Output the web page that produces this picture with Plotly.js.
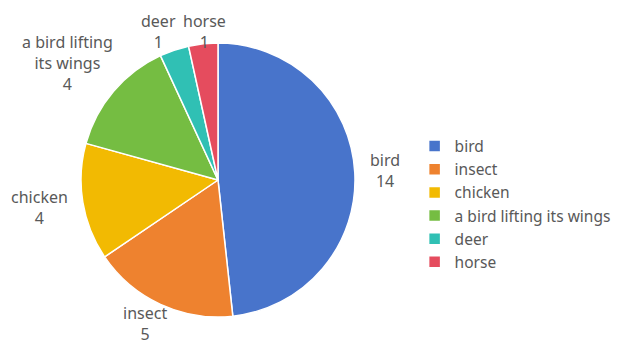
<!DOCTYPE html>
<html>
<head>
<meta charset="utf-8">
<script src="https://cdn.plot.ly/plotly-3.0.1.min.js"></script>
<style>html,body{margin:0;padding:0;background:#fff;}#chart{width:617px;height:344px;}</style>
</head>
<body>
<div id="chart"></div>
<script>
const categories = ["bird", "insect", "chicken", "a bird lifting its wings", "deer", "horse"];
const pieLabels = ["bird", "insect", "chicken", "a bird lifting<br>its wings", "deer", "horse"];
const values = [14, 5, 4, 4, 1, 1];
const colors = ["#4874CB", "#EE822F", "#F2BA02", "#75BD42", "#30C0B4", "#E54C5E"];

const W = 617, H = 344;
const cx = 218, cy = 180, r = 137;
const FONT = "Noto Sans, sans-serif";
const FS = 16;
const textColor = "#595959";

// Label placement: outside the pie, computed from slice mid-angles (clockwise from 12 o'clock)
const ctx = document.createElement("canvas").getContext("2d");
ctx.font = FS + "px 'Noto Sans'";
const total = values.reduce((a, b) => a + b, 0);
let cum = 0;
const boxes = values.map((v, i) => {
  const mid = (cum + v / 2) / total * 2 * Math.PI;
  cum += v;
  const lines = (pieLabels[i] + "<br>" + v).split("<br>");
  const hw = Math.max(...lines.map(l => ctx.measureText(l).width)) / 2 + 2;
  const hh = lines.length * FS * 1.3 / 2;
  const dx = Math.sin(mid), dy = -Math.cos(mid);
  const R = r * 1.095;
  let x = cx + R * dx + dx * hw;
  let y = cy + R * dy + dy * hh;
  // keep inside chart area
  const minTop = 11, maxBottom = H;
  if (y - hh < minTop) y = minTop + hh;
  if (y + hh > maxBottom) y = maxBottom - hh;
  return { x, y, hw, hh, text: lines.join("<br>") };
});
// resolve horizontal overlaps between neighbouring labels on the same row
for (let i = 0; i < boxes.length; i++) {
  for (let j = i + 1; j < boxes.length; j++) {
    const a = boxes[i], b = boxes[j];
    if (Math.abs(a.y - b.y) < a.hh + b.hh) {
      const need = a.hw + b.hw + 4;
      const d = Math.abs(a.x - b.x);
      if (d < need) {
        const m = (a.x + b.x) / 2, s = a.x < b.x ? -1 : 1;
        a.x = m + s * need / 2; b.x = m - s * need / 2;
      }
    }
  }
}
const annotations = boxes.map(b => ({
  xref: "paper", yref: "paper",
  x: b.x / W, y: 1 - b.y / H,
  xanchor: "center", yanchor: "middle",
  text: b.text, showarrow: false, align: "center",
  font: { family: FONT, size: FS, color: textColor }
}));

const trace = {
  type: "pie",
  labels: categories,
  values: values,
  sort: false,
  direction: "clockwise",
  rotation: 0,
  marker: { colors: colors, line: { color: "#ffffff", width: 1.5 } },
  textinfo: "none",
  hoverinfo: "label+value",
  domain: { x: [(cx - r) / W, (cx + r) / W], y: [(H - cy - r) / H, (H - cy + r) / H] }
};

const layout = {
  width: W, height: H,
  margin: { l: 0, r: 0, t: 0, b: 0, autoexpand: false },
  paper_bgcolor: "#ffffff",
  showlegend: true,
  annotations: annotations,
  legend: {
    x: 0.672, y: 1 - 204 / H, xanchor: "left", yanchor: "middle",
    font: { family: FONT, size: 15.5, color: textColor },
    itemwidth: 30
  }
};

Plotly.newPlot("chart", [trace], layout, { displayModeBar: false, staticPlot: true });
</script>
</body>
</html>
